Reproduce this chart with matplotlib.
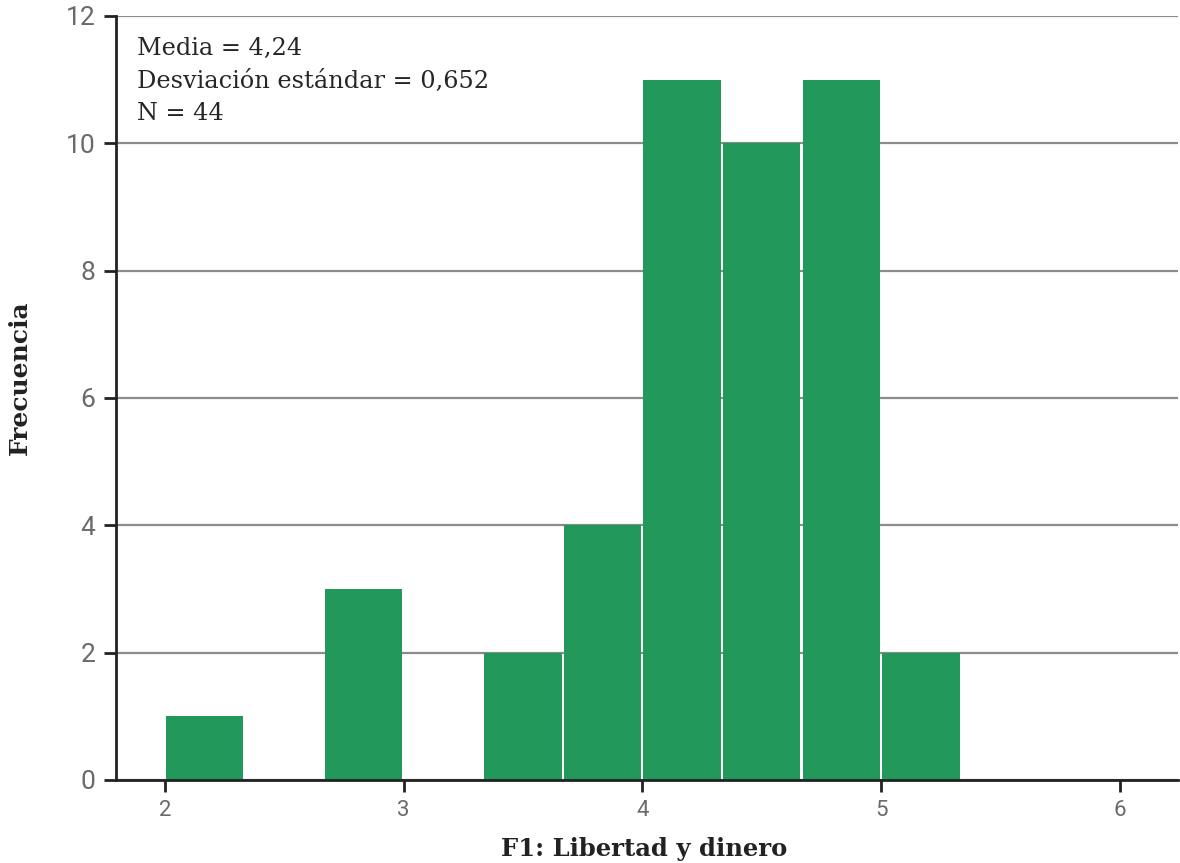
import matplotlib
matplotlib.use("Agg")
import matplotlib.pyplot as plt
import numpy as np

# Data
bin_edges = [2.0, 2.3333, 2.6667, 3.0, 3.3333, 3.6667, 4.0, 4.3333, 4.6667, 5.0, 5.3333]
frequencies = [1, 0, 3, 0, 2, 4, 11, 10, 11, 2]
x_ticks = [2, 3, 4, 5, 6]
y_ticks = [0, 2, 4, 6, 8, 10, 12]
stats_text = ["Media = 4,24", "Desviación estándar = 0,652", "N = 44"]
x_label = "F1: Libertad y dinero"
y_label = "Frecuencia"

serif = "DejaVu Serif"
fig = plt.figure(figsize=(11.8, 8.63), dpi=100)
ax = fig.add_axes([0.0983, 0.0962, 0.9, 0.8853])

lefts = np.array(bin_edges[:-1])
widths = np.diff(bin_edges) * 0.972
ax.bar(lefts + 0.004, frequencies, width=widths, align="edge", color="#22985A",
       linewidth=0, zorder=2)

ax.set_xlim(1.795, 6.243)
ax.set_ylim(0, 12)
ax.set_xticks(x_ticks)
ax.set_yticks(y_ticks)
ax.yaxis.grid(True, color="#8c8c8c", linewidth=1.6, zorder=1)
ax.set_axisbelow(True)

for s in ["top", "right"]:
    ax.spines[s].set_visible(False)
for s in ["left", "bottom"]:
    ax.spines[s].set_color("#222222")
    ax.spines[s].set_linewidth(2)

ax.tick_params(axis="y", length=9, width=2, color="#222222", labelcolor="#6a6a6a",
               labelsize=19, pad=6)
ax.tick_params(axis="x", length=8.5, width=2, color="#222222", labelcolor="#6a6a6a",
               labelsize=16, pad=6)
for lab in ax.get_xticklabels() + ax.get_yticklabels():
    lab.set_fontfamily("Roboto")

ax.text(0.02, 0.972, "\n".join(stats_text), transform=ax.transAxes, va="top", ha="left",
        fontsize=17.3, family=serif, color="#262626", linespacing=1.52)

fig.text(0.546, 0.002, x_label, ha="center", va="bottom", fontsize=17.5,
         fontweight="bold", family=serif, color="#222222")
fig.text(0.017, 0.562, y_label, ha="center", va="center", rotation=90, fontsize=18,
         fontweight="bold", family=serif, color="#222222")

fig.savefig("out.png", dpi=100)
